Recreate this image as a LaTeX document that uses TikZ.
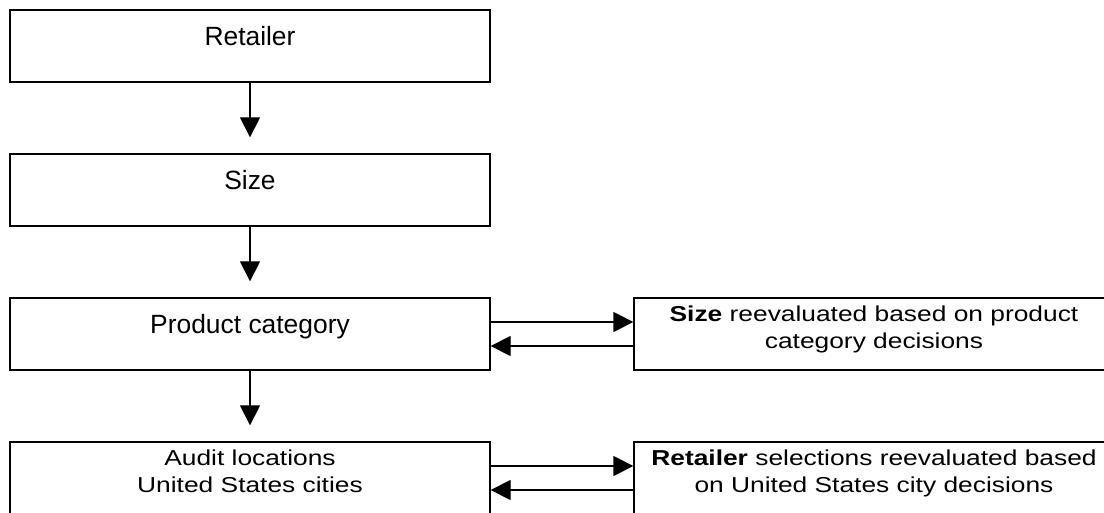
\documentclass[tikz,border=0pt]{standalone}
\usepackage{fontspec}
\setmainfont{Liberation Sans}
\usepackage{graphicx}
\usepackage{tikz}
\usetikzlibrary{arrows.meta}

\newcommand{\wide}[1]{\scalebox{1.22}[1]{#1}}

\begin{document}
\begin{tikzpicture}[x=0.5pt, y=0.5pt,
        stage/.style={rectangle, draw, line width=0.65pt, minimum width=240pt, inner xsep=0pt, inner ysep=0pt, align=center},
        oneline/.style={stage, font=\fontsize{13.2pt}{15pt}\selectfont, text height=18pt, text depth=18pt},
        twoline/.style={stage, font=\fontsize{10.8pt}{13.5pt}\selectfont, text height=25.5pt, text depth=10.5pt},
        flow/.style={line width=0.65pt, -{Triangle[length=10pt, width=10pt]}}]
        \useasboundingbox (0, 0) rectangle (1104, -513);
        \node (1) at (250, -46) [oneline] {Retailer};
        \node (2) at (250, -190) [oneline] {Size};
        \node (3) at (250, -334) [oneline] {Product category};
        \node (4) at (250, -478) [twoline] {\wide{Audit locations}\\\wide{United States cities}};
        \node (5) at (874, -334) [twoline] {\wide{\textbf{Size} reevaluated based on product}\\\wide{category decisions}};
        \node (6) at (874, -478) [twoline] {\wide{\textbf{Retailer} selections reevaluated based}\\\wide{on United States city decisions}};
        \draw [] (1) edge [flow, shorten >=8pt] (2);
        \draw [] (2) edge [flow, shorten >=8pt] (3);
        \draw [] (3) edge [flow, shorten >=8pt] (4);
        \draw [] ([yshift=6pt]3.east) edge [flow] ([yshift=6pt]5.west);
        \draw [] ([yshift=-6pt]5.west) edge [flow] ([yshift=-6pt]3.east);
        \draw [] ([yshift=6pt]4.east) edge [flow] ([yshift=6pt]6.west);
        \draw [] ([yshift=-6pt]6.west) edge [flow] ([yshift=-6pt]4.east);
    \end{tikzpicture}
\end{document}
